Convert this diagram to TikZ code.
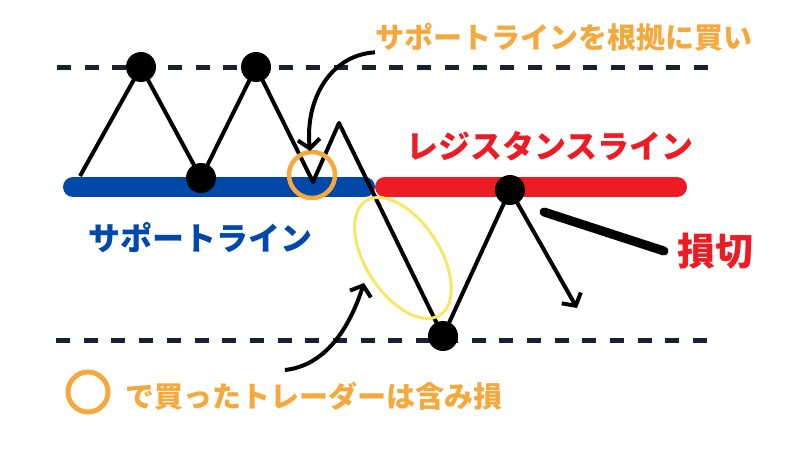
\documentclass[tikz,border=0pt]{standalone}
\usepackage{fontspec}
\newfontfamily\jp{Noto Sans CJK JP}
\usetikzlibrary{arrows.meta}
\definecolor{navy}{RGB}{27,32,54}
\definecolor{barblue}{RGB}{0,72,170}
\definecolor{barred}{RGB}{237,28,36}
\definecolor{notice}{RGB}{245,168,60}
\definecolor{zone}{RGB}{250,230,100}
\tikzset{
  dot/.style={circle,fill=black,inner sep=0pt,minimum size=30pt},
  guide/.style={navy,line width=5pt,dash pattern=on 14pt off 13.7pt},
  bar/.style={line width=20pt,line cap=round},
  jptext/.style={font=\jp\bfseries\fontsize{29}{29}\selectfont,anchor=west,inner sep=0pt},
  bigtext/.style={jptext,font=\jp\bfseries\fontsize{32}{32}\selectfont},
  barb/.style={-{Straight Barb[length=9pt,width=22pt,line width=4pt]}},
}
\begin{document}
\begin{tikzpicture}[x=1pt,y=-1pt,line join=round]
\useasboundingbox (0,0) rectangle (800,450);
% guide lines
\draw[guide] (57,67)--(708,67);
\draw[guide] (56,340)--(708,340);
% support / resistance
\draw[bar,barblue] (73,187)--(365,187);
\draw[bar,barred] (385,187)--(677,187);
% price path
\coordinate (start) at (80,176);
\coordinate (t1) at (141,67);
\coordinate (l1) at (201,178);
\coordinate (t2) at (256,67);
\coordinate (bottom1) at (313,182);
\coordinate (fake) at (339,123);
\coordinate (l2) at (443,336);
\coordinate (t3) at (510,190);
\coordinate (fall) at (577,308);
\draw[line width=4pt] (start)--(t1)--(l1)--(t2)--(bottom1)--(fake)--(l2)--(t3);
\draw[line width=4pt,barb] (t3)--(fall);
\foreach \p/\n in {t1/top1,t2/top2,l1/low1,l2/low2,t3/top3}
  \node[dot] (\n) at (\p) {};
% marks
\draw[notice,line width=4.5pt] (312,175) circle (23);
\draw[zone,line width=3pt,rotate around={-57:(403,258)}] (403,258) ellipse (68 and 37);
\coordinate (buy) at (310,151);
\coordinate (zonein) at (364,283);
\coordinate (holdfrom) at (285,370);
% texts
\node[jptext,notice] (why) at (375,37) {サポートラインを根拠に買い};
\node[bigtext,barred] (resist) at (406,146) {レジスタンスライン};
\node[bigtext,barblue] (support) at (88,238) {サポートライン};
\node[jptext,barred,font=\jp\bfseries\fontsize{38}{38}\selectfont] (loss) at (677,251) {損切};
\draw[notice,line width=5pt] (88,392) circle (20);
\node[jptext,notice] (hold) at (125,396) {で買ったトレーダーは含み損};
% arrows
\draw[line width=4pt,barb] ([yshift=-1pt]why.south west) .. controls (330,55) and (305,100) .. (buy);
\draw[line width=4pt,barb] (holdfrom) .. controls (330,365) and (352,320) .. (zonein);
\draw[line width=9pt,line cap=round] (544,212)--([xshift=-13pt]loss.west);
\end{tikzpicture}
\end{document}
